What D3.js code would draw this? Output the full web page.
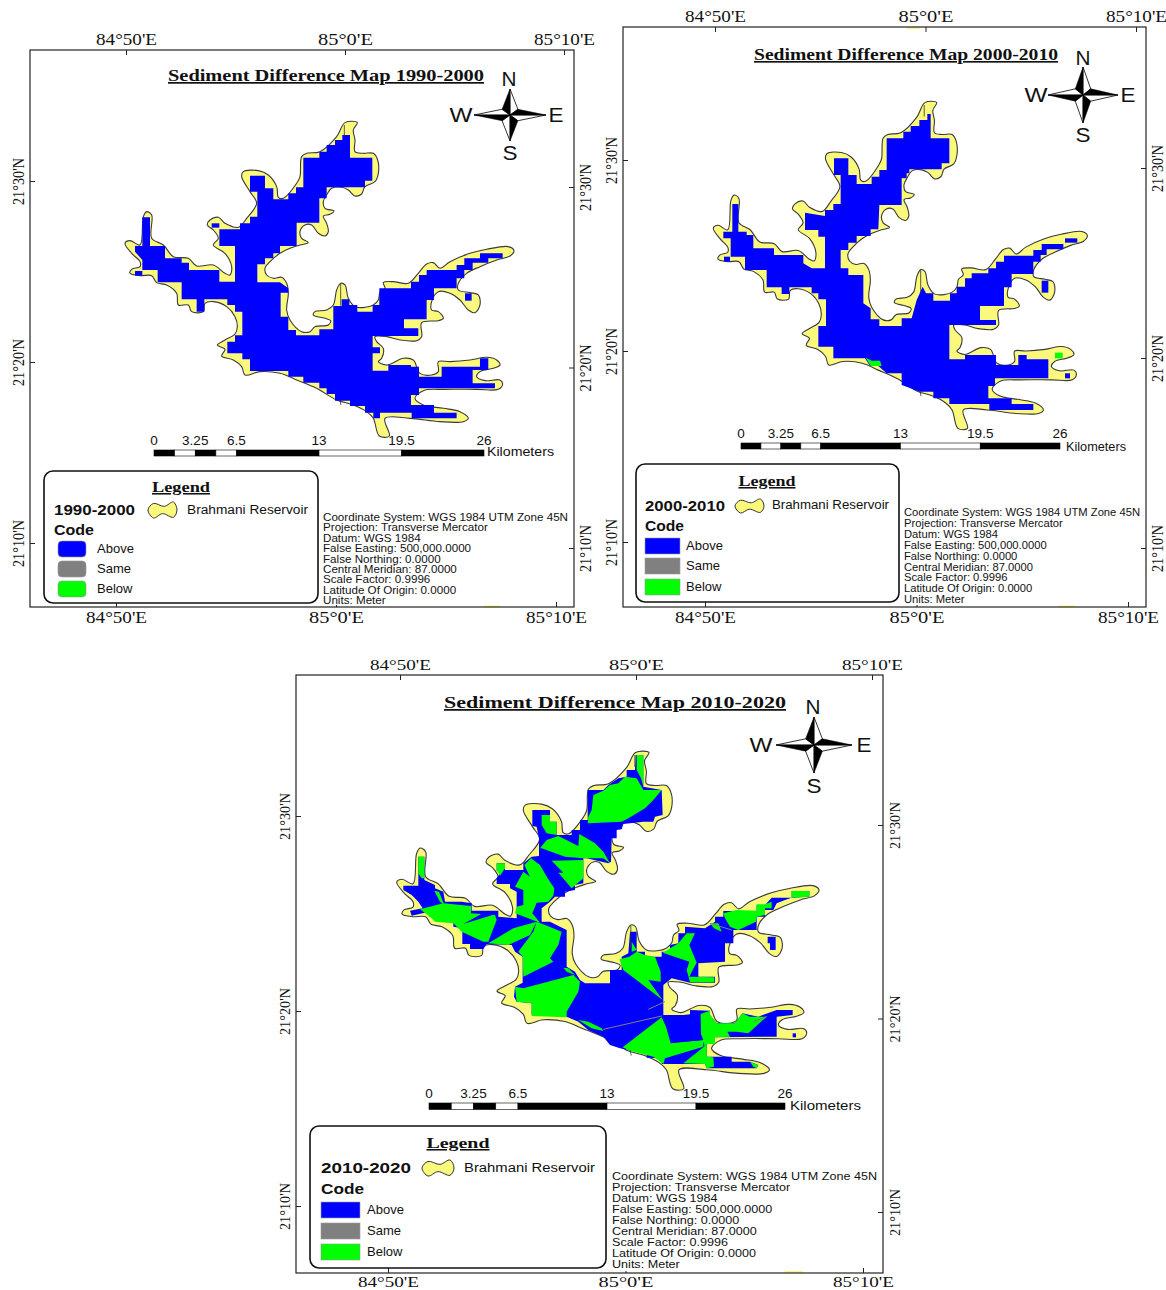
<!DOCTYPE html>
<html>
<head>
<meta charset="utf-8">
<script src="https://cdn.jsdelivr.net/npm/d3@7/dist/d3.min.js"></script>
<style>
body { margin: 0; background: #fff; }
text { fill: #111; }
</style>
</head>
<body>
<svg id="svg_canvas" width="1166" height="1290"></svg>
<script>
// reservoir shoreline, same for all three maps (traced map units)
var reservoir = [[705,38],[742,38],[730,60],[735,90],[735,125],[760,130],[790,130],[803,150],[805,190],[795,215],[765,230],[755,252],[735,258],[715,240],[695,232],[665,235],[650,255],[640,275],[645,295],[672,303],[660,313],[640,318],[650,340],[655,365],[645,378],[625,370],[605,345],[585,345],[570,365],[575,385],[595,398],[570,405],[540,415],[510,430],[480,455],[465,475],[470,495],[490,505],[515,502],[530,520],[535,550],[530,600],[540,630],[575,665],[600,665],[615,650],[655,645],[662,632],[645,625],[610,615],[615,605],[650,600],[670,585],[680,540],[692,520],[705,525],[715,565],[735,590],[765,592],[790,585],[805,570],[810,548],[825,535],[820,518],[850,515],[895,520],[925,490],[950,462],[970,458],[990,475],[1020,455],[1080,430],[1130,418],[1195,410],[1212,422],[1200,438],[1160,450],[1110,470],[1070,490],[1045,520],[1045,540],[1080,548],[1105,555],[1110,585],[1095,608],[1075,600],[1050,570],[1020,550],[985,545],[965,575],[965,600],[985,605],[1000,625],[985,632],[935,638],[935,680],[920,692],[870,690],[830,680],[795,680],[800,695],[820,715],[815,745],[805,755],[830,765],[880,745],[910,750],[930,790],[965,795],[985,785],[985,755],[1020,755],[1080,750],[1130,742],[1160,750],[1170,765],[1150,775],[1110,785],[1100,800],[1125,812],[1170,810],[1178,822],[1165,838],[1100,838],[1000,838],[940,842],[915,865],[940,885],[1000,895],[1050,905],[1075,925],[1060,935],[990,935],[900,925],[825,925],[838,978],[808,978],[790,925],[770,905],[730,885],[680,870],[620,835],[560,810],[510,790],[450,785],[405,795],[395,770],[370,750],[335,738],[345,718],[322,705],[345,690],[375,672],[382,650],[375,620],[350,590],[310,575],[285,580],[280,605],[245,605],[235,585],[205,585],[200,550],[170,525],[140,518],[125,497],[90,497],[60,490],[65,478],[90,470],[90,455],[65,430],[45,400],[60,392],[90,405],[100,320],[110,305],[125,315],[125,385],[160,405],[190,440],[235,445],[260,468],[310,465],[345,490],[360,495],[365,470],[345,430],[310,405],[325,385],[310,360],[292,345],[300,330],[325,322],[345,340],[385,352],[410,325],[440,280],[420,245],[395,200],[400,185],[445,182],[475,195],[500,230],[505,262],[520,265],[560,220],[570,200],[575,140],[590,130],[630,125],[680,80]];
var shoreLines = [[[692,522],[692,587]],[[703,45],[703,78]],[[690,870],[693,885]]];

// difference raster 1990-2000
var above1990 = [
  [[697,75],[720,75],[720,143],[787,143],[787,212],[765,212],[765,232],[650,232],[650,265],[628,265],[628,338],[560,338],[560,408],[510,408],[510,430],[490,430],[490,445],[465,445],[465,463],[442,463],[442,517],[510,517],[535,535],[535,548],[512,548],[512,620],[535,620],[535,660],[558,660],[558,676],[628,676],[628,658],[670,658],[670,588],[695,588],[695,568],[718,568],[718,585],[742,585],[742,605],[788,605],[788,585],[808,585],[808,535],[903,535],[903,515],[927,515],[927,495],[950,495],[950,480],[1040,480],[1040,465],[1063,465],[1063,445],[1110,445],[1110,430],[1178,430],[1178,445],[1135,445],[1135,458],[1088,458],[1088,480],[1063,480],[1063,505],[1040,505],[1040,535],[972,535],[972,570],[950,570],[950,628],[882,628],[882,655],[925,655],[925,678],[788,678],[788,712],[810,712],[810,730],[788,730],[788,782],[835,782],[835,765],[903,765],[903,770],[927,770],[927,800],[995,800],[995,770],[1110,770],[1110,745],[1135,745],[1135,780],[1088,780],[1088,820],[1155,820],[1155,835],[927,835],[927,855],[903,855],[903,885],[972,885],[972,908],[1040,908],[1040,925],[905,925],[905,908],[810,908],[810,925],[790,925],[790,908],[765,908],[765,888],[720,888],[720,872],[675,872],[675,852],[650,852],[650,835],[628,835],[628,818],[580,818],[580,800],[535,800],[535,783],[420,783],[420,748],[397,748],[397,730],[352,730],[352,695],[375,695],[375,676],[397,676],[397,605],[375,605],[375,585],[352,585],[352,568],[283,568],[283,605],[260,605],[260,568],[215,568],[215,517],[143,517],[143,480],[97,480],[97,450],[75,425],[75,408],[97,408],[97,322],[120,322],[120,408],[165,408],[165,445],[215,445],[215,458],[237,458],[237,480],[328,480],[328,515],[375,515],[375,408],[328,408],[328,358],[390,358],[390,340],[420,340],[420,320],[442,320],[442,245],[420,245],[420,197],[465,197],[465,235],[490,235],[490,268],[535,268],[535,250],[558,250],[558,232],[580,232],[580,143],[628,143],[628,125],[650,125],[650,105],[675,105],[675,90],[697,90]],
  [[305,340],[328,340],[328,353],[305,353]],
  [[75,483],[97,483],[97,497],[75,497]],
  [[1065,550],[1085,550],[1085,572],[1065,572]]
];
var below1990 = [];

// difference raster 2000-2010
var above2000 = [
  [[682,72],[692,72],[692,145],[748,145],[748,220],[725,220],[725,238],[628,238],[628,250],[620,250],[620,265],[605,265],[605,345],[538,345],[535,418],[512,418],[512,438],[470,438],[470,458],[445,458],[445,480],[422,480],[422,535],[445,535],[445,555],[490,555],[490,640],[512,655],[512,688],[538,688],[538,708],[605,708],[605,685],[635,685],[650,630],[668,590],[678,610],[700,610],[700,632],[750,632],[750,610],[770,610],[770,590],[795,590],[795,565],[815,565],[815,550],[865,550],[865,535],[888,535],[888,515],[912,515],[912,497],[1000,497],[1000,480],[1025,480],[1025,462],[1090,462],[1090,478],[1040,478],[1040,495],[1022,495],[1022,515],[1000,515],[1000,552],[935,552],[935,592],[912,592],[912,648],[840,648],[840,690],[888,690],[888,705],[748,705],[748,808],[795,808],[795,795],[888,795],[888,825],[955,825],[955,795],[980,795],[980,808],[1045,808],[1045,865],[885,865],[885,888],[865,888],[865,925],[935,925],[935,942],[1000,942],[1000,960],[868,960],[868,942],[748,942],[748,925],[700,925],[700,905],[660,905],[605,885],[605,850],[560,850],[535,828],[510,828],[495,805],[400,805],[400,770],[355,770],[355,708],[378,708],[378,628],[355,628],[355,610],[335,610],[335,592],[268,592],[268,612],[245,612],[245,592],[200,592],[200,540],[135,540],[135,500],[92,500],[92,445],[70,445],[70,425],[97,425],[97,342],[115,342],[115,425],[140,425],[140,435],[160,435],[160,475],[222,475],[222,495],[310,495],[310,520],[335,535],[375,535],[375,440],[355,440],[355,420],[315,420],[315,368],[375,378],[375,360],[400,360],[400,342],[422,342],[422,255],[402,255],[402,205],[445,205],[445,255],[470,255],[470,282],[515,282],[515,260],[538,260],[538,240],[560,240],[560,145],[610,145],[610,125],[632,125],[632,108],[658,108],[658,90],[682,90]],
  [[1095,445],[1132,445],[1132,458],[1095,458]],
  [[1095,850],[1110,850],[1110,865],[1095,865]],
  [[1025,572],[1045,572],[1045,608],[1025,608]],
  [[72,500],[90,500],[90,515],[72,515]]
];
var below2000 = [
  [[497,803],[515,812],[540,812],[545,828],[512,828]],
  [[1065,788],[1088,788],[1088,805],[1065,805]]
];

// difference raster 2010-2020
var above2010 = [
  [[737,30],[760,30],[760,125],[815,135],[818,210],[795,215],[790,230],[760,230],[700,237],[695,253],[680,255],[680,280],[665,280],[663,350],[655,355],[590,340],[580,340],[580,415],[555,420],[555,435],[525,440],[525,455],[495,455],[480,470],[455,490],[455,530],[480,530],[510,545],[530,555],[530,665],[555,680],[570,705],[585,715],[660,715],[660,675],[695,675],[695,635],[715,625],[720,560],[740,560],[740,620],[765,620],[765,635],[815,635],[815,620],[840,620],[840,600],[865,595],[865,565],[885,565],[885,545],[945,550],[975,530],[975,515],[1000,515],[1000,498],[1100,498],[1100,480],[1125,480],[1145,458],[1205,458],[1205,438],[1258,438],[1258,455],[1205,458],[1185,465],[1160,475],[1150,495],[1125,495],[1125,515],[1100,515],[1100,555],[1030,555],[1030,595],[1005,595],[1005,650],[925,655],[925,695],[975,695],[975,713],[900,713],[845,700],[820,720],[820,810],[900,810],[900,795],[960,797],[960,810],[980,835],[1035,835],[1057,805],[1105,815],[1160,795],[1208,795],[1208,810],[1160,815],[1160,875],[975,877],[975,897],[950,897],[950,935],[1025,935],[1025,950],[1080,950],[1105,960],[1100,970],[950,970],[945,957],[815,957],[815,940],[770,938],[770,925],[720,915],[690,910],[660,900],[640,875],[595,855],[565,830],[530,815],[425,810],[425,775],[380,770],[372,755],[375,725],[398,713],[398,635],[375,620],[365,600],[290,597],[280,612],[240,612],[240,597],[217,597],[217,550],[190,545],[190,532],[130,515],[118,515],[118,500],[65,512],[60,497],[98,490],[85,470],[65,450],[40,435],[40,422],[85,422],[85,335],[103,335],[103,405],[135,420],[135,430],[160,440],[165,470],[215,470],[245,475],[245,497],[325,497],[325,515],[380,520],[380,440],[360,430],[360,417],[320,417],[320,400],[335,377],[320,377],[320,355],[345,355],[345,375],[400,375],[400,355],[425,335],[447,333],[447,280],[440,245],[427,243],[427,195],[480,195],[480,230],[500,230],[500,270],[545,270],[545,255],[570,255],[570,225],[593,225],[593,135],[640,135],[655,120],[685,100],[710,95],[710,75],[735,75]],
  [[1133,575],[1157,575],[1157,615],[1140,615],[1140,595],[1133,595]],
  [[1208,865],[1218,865],[1218,877],[1208,877]]
];
var below2010 = [
  [[740,30],[760,30],[760,125],[753,100],[740,75]],
  [[610,150],[640,137],[660,120],[685,115],[705,95],[740,100],[760,135],[815,135],[790,165],[765,190],[715,220],[695,230],[593,235],[595,215],[605,195]],
  [[455,210],[480,210],[480,230],[500,230],[500,270],[470,265],[455,240]],
  [[450,310],[470,285],[505,273],[565,303],[568,267],[615,295],[640,320],[660,355],[640,340],[580,340],[525,335],[455,310]],
  [[485,347],[580,345],[580,400],[545,430],[505,383],[520,383]],
  [[403,360],[423,340],[450,360],[473,400],[493,430],[490,452],[475,470],[440,473],[427,505],[450,533],[375,505],[380,485],[400,480],[400,435],[375,425],[400,380],[420,395]],
  [[90,493],[160,475],[243,483],[243,505],[315,510],[320,525],[295,590],[280,590],[215,560],[190,535],[135,530],[120,515]],
  [[133,437],[147,440],[163,480],[150,470]],
  [[295,595],[370,550],[440,530],[420,570],[355,600]],
  [[385,620],[430,560],[440,530],[465,540],[515,560],[505,600],[480,640],[490,650],[400,695],[398,635]],
  [[375,725],[400,730],[550,690],[570,710],[565,740],[530,800],[530,817],[425,813],[425,775],[380,770]],
  [[520,668],[535,670],[555,690],[530,680]],
  [[688,643],[718,635],[740,620],[765,630],[795,635],[812,680],[812,710],[775,705],[818,765],[700,675]],
  [[725,590],[740,615],[725,620]],
  [[818,623],[865,595],[890,565],[915,565],[898,600],[920,653],[908,675],[898,695],[973,697],[973,712],[900,712],[890,675],[898,650]],
  [[960,535],[985,535],[995,560],[972,550]],
  [[1000,505],[1040,495],[1100,497],[1100,478],[1125,478],[1145,470],[1145,490],[1125,490],[1125,510],[1100,515],[1098,530],[1045,555],[1020,545],[1005,520]],
  [[1205,438],[1258,438],[1258,455],[1205,458]],
  [[320,355],[345,355],[345,370],[330,392],[320,375]],
  [[85,335],[103,335],[103,400],[95,400],[85,385]],
  [[698,907],[815,817],[828,845],[842,895],[940,885],[940,905],[825,940],[820,957],[790,935],[720,917]],
  [[932,807],[960,797],[960,810],[980,835],[1035,835],[1057,805],[1080,815],[1130,815],[1075,865],[1040,860],[1012,860],[1020,875],[975,877],[975,897],[948,897],[945,907],[933,870]],
  [[940,907],[950,897],[950,935],[970,937],[972,965],[950,970],[945,957],[880,955]],
  [[1080,950],[1105,960],[1100,970],[1090,965]],
  [[565,825],[595,830],[635,850],[640,858],[605,850]]
];
// same-code slivers in 2010-2020
var same2010 = [
  [[640,853],[815,813]],
  [[775,793],[825,770]],
  [[960,535],[1025,555]],
  [[1090,830],[1130,815]]
];
// wedges of above sitting on the green of 2010-2020
var above2010Top = [
  [[220,537],[290,498],[305,505],[315,508]],
  [[828,815],[930,805],[928,855],[940,885],[845,893]]
];

var lonTicks = [84 + 50/60, 85, 85 + 10/60];
var lonLabels = ["84°50'E", "85°0'E", "85°10'E"];
var latTicks = [21.5, 21 + 20/60, 21 + 10/60];
var latLabels = ["21°30'N", "21°20'N", "21°10'N"];
var barStops = [0, 1.625, 3.25, 4.875, 6.5, 13, 19.5, 26];
var barLabels = [0, 3.25, 6.5, 13, 19.5, 26];
var codes = ["Above", "Same", "Below"];
var codeColors = ["#0000ff", "#808080", "#00ff00"];
var shoreColor = "#fbf97c";
var projInfo = [
  "Coordinate System: WGS 1984 UTM Zone 45N",
  "Projection: Transverse Mercator",
  "Datum: WGS 1984",
  "False Easting: 500,000.0000",
  "False Northing: 0.0000",
  "Central Meridian: 87.0000",
  "Scale Factor: 0.9996",
  "Latitude Of Origin: 0.0000",
  "Units: Meter"
];
var legendBlob = [[0,22],[15,4],[45,12],[70,0],[80,22],[70,42],[40,32],[15,44]];
var compassDark = [
  [[0,-1],[-0.22,-0.22],[0,0]], [[1,0],[0.22,-0.22],[0,0]],
  [[0,1],[0.22,0.22],[0,0]], [[-1,0],[-0.22,0.22],[0,0]]
];
var compassLight = [
  [[0,-1],[0.22,-0.22],[0,0]], [[1,0],[0.22,0.22],[0,0]],
  [[0,1],[-0.22,0.22],[0,0]], [[-1,0],[-0.22,-0.22],[0,0]]
];

var panels = [
  {
    period: "1990-2000", above: above1990, below: below1990, same: [], aboveTop: [],
    frame: [30, 574, 50, 607], tickPad: 4, tickFont: 16.5,
    lonTop: [126, 564], lonBottom: [116, 556], latLeft: [181, 543], latRight: [187, 548],
    shoreX: [125, 513.3], shoreY: [123.3, 435],
    rasterX: [[45, 1210], [125, 513.3]], rasterY: [[40, 975], [123.3, 435]],
    title: [168, 484, 81, 17],
    compass: [510, 115, 36, 26, 509, 79, 510, 153, 461, 115, 556, 115],
    bar: [154, 484, 450, 6, 445, 487, 456, 67],
    slivers: [[484, 500, 605.5]],
    legend: { box: [44, 318, 471, 603], head: [181, 492, 58], year: [54, 135, 515], blob: [148, 177, 502, 518], res: [187, 308, 514], code: [54, 535, 40], sw: [58, 86, 541, 561, 581, 16], txt: 97, rx: 4 },
    info: [323, 245, 521, 10.4, 10.5]
  },
  {
    period: "2000-2010", above: above2000, below: below2000, same: [], aboveTop: [],
    frame: [623, 1146, 27, 607], tickPad: 4, tickFont: 16.5,
    lonTop: [715, 1136], lonBottom: [705, 1128], latLeft: [160, 542], latRight: [168, 548],
    shoreX: [713.3, 1086.7], shoreY: [103.3, 427.3],
    rasterX: [[0, 1200], [700, 1100]], rasterY: [[0, 1020], [90, 430]],
    title: [754, 1058, 60, 16.5],
    compass: [1083, 95, 35, 28, 1083, 58, 1083, 135, 1036, 95, 1128, 95],
    bar: [741, 1060, 443, 6, 438, 1066, 451, 60],
    slivers: [[907, 920, 27], [1059, 1075, 605.5]],
    legend: { box: [636, 899, 464, 602], head: [767, 486, 57], year: [645, 725, 511], blob: [735, 764, 499, 513], res: [772, 889, 509], code: [645, 531, 39], sw: [645, 680, 538, 558, 579, 16], txt: 686, rx: 0 },
    info: [904, 236, 516, 10.9, 10.5]
  },
  {
    period: "2010-2020", above: above2010, below: below2010, same: same2010, aboveTop: above2010Top,
    frame: [296, 883, 675, 1273], tickPad: 2.5, tickFont: 15.5,
    lonTop: [400, 872], lonBottom: [388, 863], latLeft: [816, 1206], latRight: [825, 1212],
    shoreX: [396.7, 818.3], shoreY: [753.3, 1087.7],
    rasterX: [[0, 1320], [390, 830]], rasterY: [[0, 1050], [745, 1095]],
    title: [444, 786, 708, 17.5],
    compass: [814, 745, 38, 28, 813, 707, 814, 786, 761, 745, 864, 745],
    bar: [429, 785, 1103, 6.5, 1098, 790, 1110, 71],
    slivers: [[785, 803, 1271]],
    legend: { box: [310, 606, 1126, 1268], head: [458, 1148, 63], year: [321, 411, 1173], blob: [422, 454, 1160, 1176], res: [464, 595, 1172], code: [321, 1194, 43], sw: [321, 360, 1202, 1223, 1244, 16], txt: 367, rx: 0 },
    info: [612, 265, 1180, 11.05, 10.9]
  }
];

var svg = d3.select('#svg_canvas');
var SANS = "'Liberation Sans', Arial, sans-serif";
var SERIF = "'Liberation Serif', 'Times New Roman', serif";

var polyPath = function(sx, sy){
    return d3.line().x(function(d){ return sx(d[0]); }).y(function(d){ return sy(d[1]); });
};

var label = function(g, txt, x, y, size, font, weight, width){
    var t = g.append('text')
        .attr('x', x).attr('y', y)
        .attr('font-family', font).attr('font-size', size)
        .attr('font-weight', weight || 'normal')
        .text(txt);
    if(width){
        t.attr('textLength', width).attr('lengthAdjust', 'spacingAndGlyphs');
    }
    return t;
};

var drawAxes = function(g, p){
    var f = p.frame;
    var lonDomain = [lonTicks[0], lonTicks[2]];
    var latDomain = [latTicks[0], latTicks[2]];
    var fmtLon = function(d, i){ return lonLabels[i]; };
    var fmtLat = function(d, i){ return latLabels[i]; };

    g.append('g').selectAll('rect').data(p.slivers).enter().append('rect')
        .attr('x', function(d){ return d[0]; }).attr('y', function(d){ return d[2]; })
        .attr('width', function(d){ return d[1]-d[0]; }).attr('height', 2)
        .attr('fill', shoreColor);

    g.append('rect').attr('x', f[0]).attr('y', f[2])
        .attr('width', f[1]-f[0]).attr('height', f[3]-f[2])
        .attr('fill', 'none').attr('stroke', '#222').attr('stroke-width', 1.2);

    var top = d3.axisTop(d3.scaleLinear().domain(lonDomain).range(p.lonTop))
        .tickValues(lonTicks).tickFormat(fmtLon).tickSizeInner(-5).tickSizeOuter(0).tickPadding(5);
    var bottom = d3.axisBottom(d3.scaleLinear().domain(lonDomain).range(p.lonBottom))
        .tickValues(lonTicks).tickFormat(fmtLon).tickSizeInner(-5).tickSizeOuter(0).tickPadding(p.tickPad);
    var left = d3.axisLeft(d3.scaleLinear().domain(latDomain).range(p.latLeft))
        .tickValues(latTicks).tickFormat(fmtLat).tickSizeInner(-5).tickSizeOuter(0);
    var right = d3.axisRight(d3.scaleLinear().domain(latDomain).range(p.latRight))
        .tickValues(latTicks).tickFormat(fmtLat).tickSizeInner(-5).tickSizeOuter(0);

    var axes = [
        g.append('g').attr('transform', 'translate(0,' + f[2] + ')').call(top),
        g.append('g').attr('transform', 'translate(0,' + f[3] + ')').call(bottom),
        g.append('g').attr('transform', 'translate(' + f[0] + ',0)').call(left),
        g.append('g').attr('transform', 'translate(' + f[1] + ',0)').call(right)
    ];
    axes.forEach(function(a, i){
        a.select('.domain').remove();
        a.selectAll('line').attr('stroke', '#222');
        var t = a.selectAll('text')
            .attr('font-family', SERIF).attr('font-size', p.tickFont).attr('fill', '#111');
        if(i < 2){
            t.attr('textLength', function(d, j){ return j == 1 ? 55 : 61; })
             .attr('lengthAdjust', 'spacingAndGlyphs');
        } else {
            t.attr('transform', 'rotate(-90)')
             .attr('x', 0).attr('dy', 0)
             .attr('y', i == 2 ? -6 : 17)
             .attr('text-anchor', 'middle')
             .attr('textLength', 47).attr('lengthAdjust', 'spacingAndGlyphs');
        }
    });
    // middle bottom tick sits under the "Units" line, only a stub shows
    axes[1].selectAll('line').filter(function(d, j){ return j == 1; }).attr('y2', -2);
};

var drawMap = function(g, p){
    var sx = d3.scaleLinear().domain([45, 1210]).range(p.shoreX);
    var sy = d3.scaleLinear().domain([40, 975]).range(p.shoreY);
    var rx = d3.scaleLinear().domain(p.rasterX[0]).range(p.rasterX[1]);
    var ry = d3.scaleLinear().domain(p.rasterY[0]).range(p.rasterY[1]);

    var shore = d3.line().x(function(d){ return sx(d[0]); }).y(function(d){ return sy(d[1]); })
        .curve(d3.curveCatmullRomClosed.alpha(0.5));
    g.append('path').attr('d', shore(reservoir))
        .attr('fill', shoreColor).attr('stroke', '#3a3a3a').attr('stroke-width', 1.1);

    var cell = polyPath(rx, ry);
    var fill = function(list, color){
        g.append('g').selectAll('path').data(list).enter().append('path')
            .attr('d', function(d){ return cell(d) + 'Z'; })
            .attr('fill', color);
    };
    fill(p.above, codeColors[0]);
    fill(p.below, codeColors[2]);
    fill(p.aboveTop, codeColors[0]);

    g.append('g').selectAll('path').data(p.same).enter().append('path')
        .attr('d', cell).attr('fill', 'none')
        .attr('stroke', codeColors[1]).attr('stroke-width', 1);

    var shoreLine = polyPath(sx, sy);
    g.append('g').selectAll('path').data(shoreLines).enter().append('path')
        .attr('d', shoreLine).attr('fill', 'none')
        .attr('stroke', '#333').attr('stroke-width', 0.8);
};

var drawCompass = function(g, p){
    var c = p.compass;
    var x = d3.scaleLinear().domain([-1, 1]).range([c[0]-c[2], c[0]+c[2]]);
    var y = d3.scaleLinear().domain([-1, 1]).range([c[1]-c[3], c[1]+c[3]]);
    var tri = polyPath(x, y);
    g.append('g').selectAll('path').data(compassLight).enter().append('path')
        .attr('d', function(d){ return tri(d) + 'Z'; })
        .attr('fill', '#fff').attr('stroke', '#000').attr('stroke-width', 0.8);
    g.append('g').selectAll('path').data(compassDark).enter().append('path')
        .attr('d', function(d){ return tri(d) + 'Z'; })
        .attr('fill', '#000').attr('stroke', '#000').attr('stroke-width', 0.5);
    var letters = ['N', 'S', 'W', 'E'];
    letters.forEach(function(l, i){
        var w = l == 'W' ? 23 : 15;
        label(g, l, c[4+i*2], c[5+i*2] + 7, 20, SANS, 'normal', w)
            .attr('text-anchor', 'middle').attr('fill', '#000');
    });
};

var drawBar = function(g, p){
    var b = p.bar;
    var x = d3.scaleLinear().domain([0, 26]).range([b[0], b[1]]);
    g.append('g').selectAll('rect').data(barStops.slice(0, -1)).enter().append('rect')
        .attr('x', function(d){ return x(d); })
        .attr('y', b[2])
        .attr('width', function(d, i){ return x(barStops[i+1]) - x(d); })
        .attr('height', b[3])
        .attr('fill', function(d, i){ return i % 2 ? '#fff' : '#000'; })
        .attr('stroke', '#000').attr('stroke-width', 0.6);
    g.append('g').selectAll('text').data(barLabels).enter().append('text')
        .attr('x', function(d){ return x(d); })
        .attr('y', b[4])
        .attr('text-anchor', 'middle')
        .attr('font-family', SANS).attr('font-size', 13.5)
        .text(function(d){ return d; });
    label(g, 'Kilometers', b[5], b[6], 13, SANS, 'normal', b[7]);
};

var drawLegend = function(g, p){
    var l = p.legend;
    g.append('rect').attr('x', l.box[0]).attr('y', l.box[2])
        .attr('width', l.box[1]-l.box[0]).attr('height', l.box[3]-l.box[2])
        .attr('rx', 9).attr('fill', '#fff').attr('stroke', '#111').attr('stroke-width', 1.6);
    label(g, 'Legend', l.head[0], l.head[1], 15.5, SERIF, 'bold', l.head[2])
        .attr('text-anchor', 'middle').attr('text-decoration', 'underline');
    label(g, p.period, l.year[0], l.year[2], 15, SANS, 'bold', l.year[1]-l.year[0]);

    var bx = d3.scaleLinear().domain([0, 80]).range([l.blob[0], l.blob[1]]);
    var by = d3.scaleLinear().domain([0, 44]).range([l.blob[2], l.blob[3]]);
    var blob = d3.line().x(function(d){ return bx(d[0]); }).y(function(d){ return by(d[1]); })
        .curve(d3.curveCatmullRomClosed.alpha(0.5));
    g.append('path').attr('d', blob(legendBlob))
        .attr('fill', shoreColor).attr('stroke', '#333').attr('stroke-width', 1);

    label(g, 'Brahmani Reservoir', l.res[0], l.res[2], 12.5, SANS, 'normal', l.res[1]-l.res[0]);
    label(g, 'Code', l.code[0], l.code[1], 14.5, SANS, 'bold', l.code[2]);

    codes.forEach(function(name, i){
        var y0 = l.sw[2+i];
        g.append('rect').attr('x', l.sw[0]).attr('y', y0)
            .attr('width', l.sw[1]-l.sw[0]).attr('height', l.sw[5])
            .attr('rx', l.rx)
            .attr('fill', codeColors[i]).attr('stroke', '#999').attr('stroke-width', 0.6);
        label(g, name, l.txt, y0 + 12, 13, SANS);
    });
};

var drawInfo = function(g, p){
    var n = p.info;
    var lines = g.append('g').selectAll('text').data(projInfo).enter().append('text')
        .attr('x', n[0])
        .attr('y', function(d, i){ return n[2] + i*n[3]; })
        .attr('font-family', SANS).attr('font-size', n[4])
        .text(function(d){ return d; });
    // the reference type is stretched sideways; widen every line by the first line's ratio
    var ratio = n[1] / lines.node().getComputedTextLength();
    lines.each(function(){
        d3.select(this)
            .attr('textLength', this.getComputedTextLength() * ratio)
            .attr('lengthAdjust', 'spacingAndGlyphs');
    });
};

panels.forEach(function(p){
    var g = svg.append('g');
    drawMap(g, p);
    drawAxes(g, p);
    label(g, 'Sediment Difference Map ' + p.period, p.title[0], p.title[2], p.title[3], SERIF, 'bold', p.title[1]-p.title[0])
        .attr('text-decoration', 'underline');
    drawCompass(g, p);
    drawBar(g, p);
    drawLegend(g, p);
    drawInfo(g, p);
});
</script>
</body>
</html>
